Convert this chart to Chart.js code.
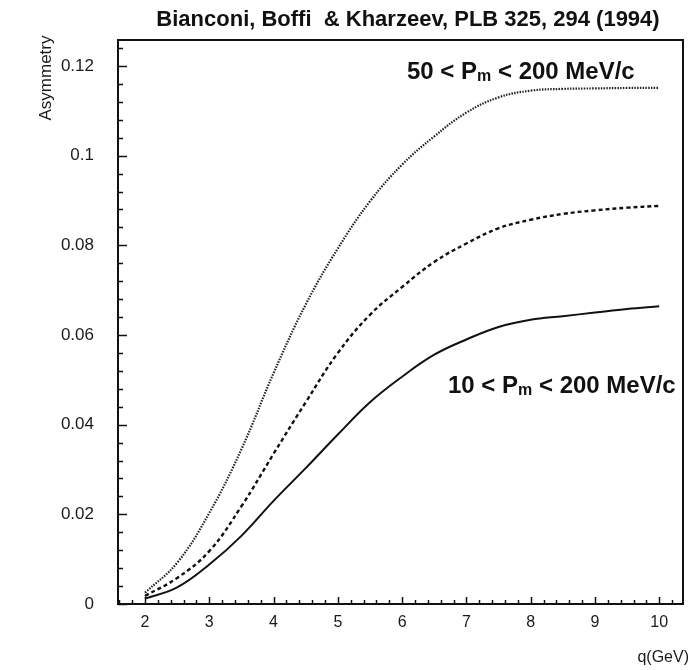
<!DOCTYPE html>
<html>
<head>
<meta charset="utf-8">
<script src="https://cdn.jsdelivr.net/npm/chart.js@4.4.1/dist/chart.umd.min.js"></script>
<style>
  html, body { margin: 0; padding: 0; background: #fff; }
  canvas { display: block; }
</style>
</head>
<body>
<canvas id="c" width="690" height="670"></canvas>
<script>
// Momentum transfer q (GeV)
const qValues = [2.0, 2.5, 3.0, 3.5, 4.0, 4.5, 5.0, 5.5, 6.0, 6.5, 7.0, 7.5, 8.0, 8.5, 9.0, 9.5, 10.0];

// Asymmetry, 50 < Pm < 200 MeV/c (dotted)
const asymHighPm = [0.0025, 0.0092, 0.0203, 0.0345, 0.0515, 0.0668, 0.0793, 0.0898, 0.0980, 0.1043, 0.1096, 0.1130, 0.1145, 0.1149, 0.1150, 0.1151, 0.1151];

// Asymmetry, intermediate cut (dashed)
const asymMidPm = [0.0018, 0.0058, 0.0118, 0.0218, 0.0335, 0.0450, 0.0560, 0.0645, 0.0707, 0.0763, 0.0804, 0.0838, 0.0857, 0.0870, 0.0878, 0.0884, 0.0888];

// Asymmetry, 10 < Pm < 200 MeV/c (solid)
const asymLowPm = [0.0012, 0.0037, 0.0088, 0.0152, 0.0230, 0.0303, 0.0378, 0.0450, 0.0507, 0.0556, 0.0590, 0.0618, 0.0634, 0.0642, 0.0650, 0.0658, 0.0664];

// Axis tick values and labels
const xTickValues = [2, 3, 4, 5, 6, 7, 8, 9, 10];
const yTickValues = [0, 0.02, 0.04, 0.06, 0.08, 0.1, 0.12];
const yTickLabels = ['0', '0.02', '0.04', '0.06', '0.08', '0.1', '0.12'];

const toPoints = vals => qValues.map((q, i) => ({ x: q, y: vals[i] }));

const INK = '#111';
const SANS = '"Liberation Sans", Arial, Helvetica, sans-serif';

// Frame and inward tick marks (major + minor) on the left and bottom edges
const frameTicks = {
  id: 'frameTicks',
  afterDatasetsDraw(chart) {
    const { ctx, chartArea: a, scales: { x, y } } = chart;
    ctx.save();
    ctx.strokeStyle = INK;
    ctx.lineWidth = 1.5;
    // y: minor every 0.004, major every 0.02
    for (let i = 0; ; i++) {
      const v = i * 0.004;
      if (v > y.max + 1e-9) break;
      const py = Math.round(y.getPixelForValue(v)) + 0.5;
      const major = i % 5 === 0;
      ctx.beginPath();
      ctx.moveTo(a.left, py);
      ctx.lineTo(a.left + (major ? 9 : 5), py);
      ctx.stroke();
    }
    // x: minor every 0.2, major every 1
    for (let i = Math.ceil(x.min / 0.2); ; i++) {
      const v = i * 0.2;
      if (v > x.max + 1e-9) break;
      const px = Math.round(x.getPixelForValue(v)) + 0.5;
      const major = i % 5 === 0;
      ctx.beginPath();
      ctx.moveTo(px, a.bottom);
      ctx.lineTo(px, a.bottom - (major ? 7 : 4));
      ctx.stroke();
    }
    ctx.lineWidth = 2;
    ctx.strokeRect(a.left, a.top, a.right - a.left, a.bottom - a.top);
    ctx.restore();
  }
};

// Draws "A < P_m < B MeV/c" with a subscript m
function drawRangeLabel(ctx, xLeft, baseline, lo, size) {
  ctx.save();
  ctx.fillStyle = INK;
  ctx.textBaseline = 'alphabetic';
  ctx.textAlign = 'left';
  const big = `bold ${size}px ${SANS}`;
  const small = `bold ${Math.round(size * 0.66)}px ${SANS}`;
  let xPos = xLeft;
  const parts = [
    [lo + ' < P', big, 0],
    ['m', small, size * 0.1],
    [' < 200 MeV/c', big, 0]
  ];
  for (const [txt, font, dy] of parts) {
    ctx.font = font;
    ctx.fillText(txt, xPos, baseline + dy);
    xPos += ctx.measureText(txt).width;
  }
  ctx.restore();
}

const annotations = {
  id: 'annotations',
  afterDraw(chart) {
    const { ctx } = chart;
    ctx.save();
    // Header
    ctx.fillStyle = INK;
    ctx.font = `bold 22px ${SANS}`;
    ctx.textAlign = 'center';
    ctx.textBaseline = 'alphabetic';
    ctx.fillText('Bianconi, Boffi  & Kharzeev, PLB 325, 294 (1994)', 408, 26);

    // Axis titles
    ctx.fillStyle = '#1a1a1a';
    ctx.font = `17px ${SANS}`;
    ctx.save();
    ctx.translate(51, 78);
    ctx.rotate(-Math.PI / 2);
    ctx.textAlign = 'center';
    ctx.textBaseline = 'alphabetic';
    ctx.fillText('Asymmetry', 0, 0);
    ctx.restore();

    ctx.font = `16px ${SANS}`;
    ctx.textAlign = 'right';
    ctx.textBaseline = 'alphabetic';
    ctx.fillText('q(GeV)', 689, 662);
    ctx.restore();

    // Curve labels
    drawRangeLabel(ctx, 407, 79, '50', 24);
    drawRangeLabel(ctx, 448, 393, '10', 24);
  }
};

new Chart(document.getElementById('c'), {
  type: 'line',
  data: {
    datasets: [
      {
        label: '50 < Pm < 200 MeV/c',
        data: toPoints(asymHighPm),
        borderColor: '#222',
        borderWidth: 2.2,
        borderDash: [1.5, 1.3],
        pointRadius: 0,
        tension: 0.4
      },
      {
        label: 'intermediate',
        data: toPoints(asymMidPm),
        borderColor: '#111',
        borderWidth: 2.4,
        borderDash: [4, 3],
        pointRadius: 0,
        tension: 0.4
      },
      {
        label: '10 < Pm < 200 MeV/c',
        data: toPoints(asymLowPm),
        borderColor: '#111',
        borderWidth: 2,
        pointRadius: 0,
        tension: 0.4
      }
    ]
  },
  options: {
    responsive: false,
    animation: false,
    devicePixelRatio: 1,
    layout: { padding: { top: 40, right: 7, left: 0, bottom: 0 } },
    plugins: { legend: { display: false }, tooltip: { enabled: false } },
    scales: {
      x: {
        type: 'linear',
        min: 1.58,
        max: 10.37,
        afterFit: s => { s.height = 66; },
        afterBuildTicks: s => { s.ticks = xTickValues.map(v => ({ value: v })); },
        grid: { display: false, drawTicks: false },
        border: { display: false },
        ticks: {
          autoSkip: false,
          maxRotation: 0,
          padding: 9,
          color: '#1a1a1a',
          font: { family: SANS, size: 16 }
        }
      },
      y: {
        min: 0,
        max: 0.1258,
        afterFit: s => { s.width = 118; },
        afterBuildTicks: s => { s.ticks = yTickValues.map(v => ({ value: v })); },
        grid: { display: false, drawTicks: false },
        border: { display: false },
        ticks: {
          padding: 24,
          color: '#1a1a1a',
          font: { family: SANS, size: 17 },
          callback: (v) => {
            const i = yTickValues.findIndex(t => Math.abs(t - v) < 1e-9);
            return i >= 0 ? yTickLabels[i] : '';
          }
        }
      }
    }
  },
  plugins: [frameTicks, annotations]
});
</script>
</body>
</html>
